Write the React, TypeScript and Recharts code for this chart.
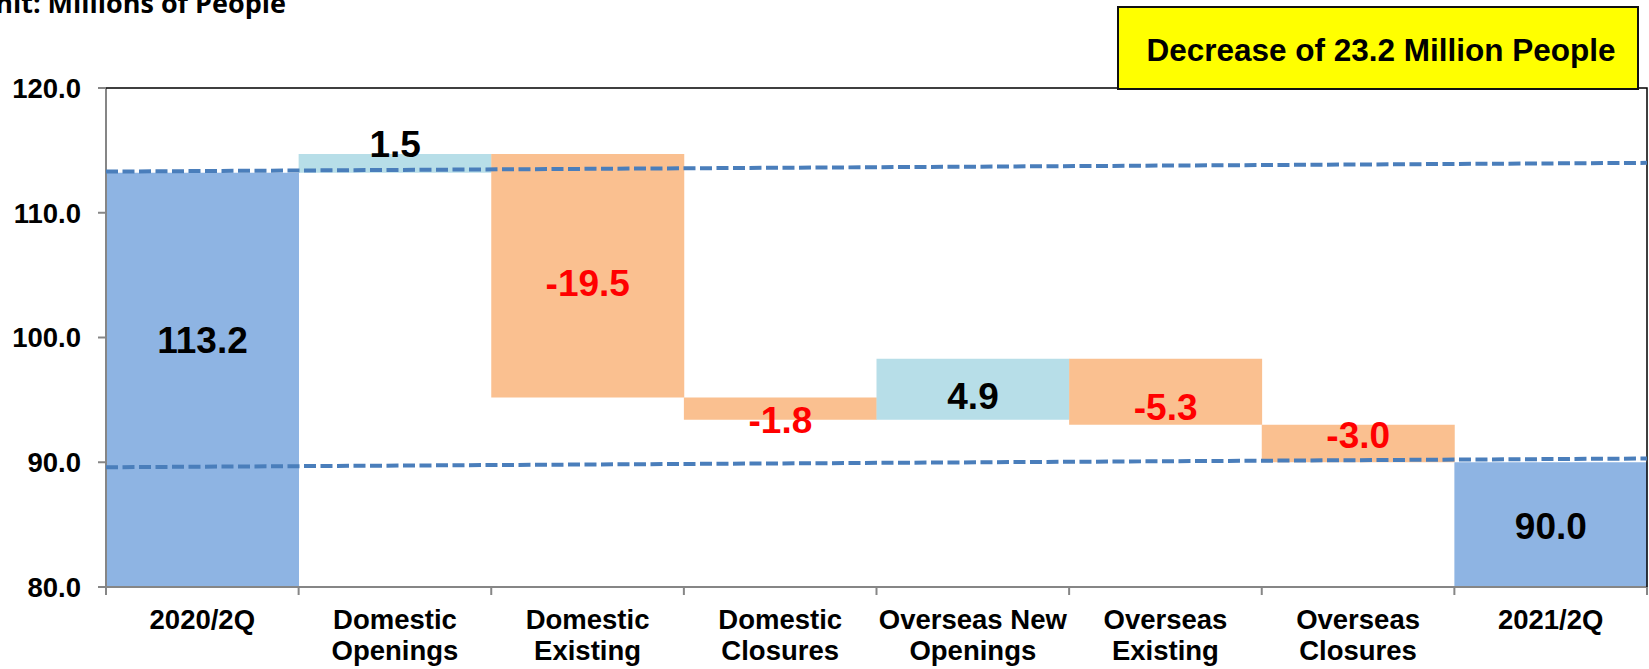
import { BarChart, Bar, XAxis, YAxis, Cell, LabelList, ReferenceArea } from 'recharts'

const categories = [
  '2020/2Q',
  'Domestic\nOpenings',
  'Domestic\nExisting',
  'Domestic\nClosures',
  'Overseas New\nOpenings',
  'Overseas\nExisting',
  'Overseas\nClosures',
  '2021/2Q',
]
const changes = [113.2, 1.5, -19.5, -1.8, 4.9, -5.3, -3.0, 90.0]
const kinds = ['total', 'up', 'down', 'down', 'up', 'down', 'down', 'total']
const yTicks = [80, 90, 100, 110, 120]
// hand-drawn dashed guides, slightly tilted (value at left edge, value at right edge)
const upperGuide = [113.3, 114.0]
const lowerGuide = [89.6, 90.3]

const W = 1649
const H = 669
const Y_MIN = 80
const Y_MAX = 120
const FONT = '"Liberation Sans", Arial, sans-serif'

const colors: Record<string, string> = { total: '#8eb4e3', up: '#b7dee8', down: '#fac090' }
// nudges of each value label from its bar centre, px
const labelShift = [-40, -20, 7, 11, 6, 15, -9, 1]

let running = 0
const rows = categories.map((name, i) => {
  const v = changes[i]
  if (kinds[i] === 'total') {
    running = v
    return { name, range: [Y_MIN, v], kind: kinds[i] }
  }
  const start = running
  running = Math.round((running + v) * 10) / 10
  return { name, range: [Math.min(start, running), Math.max(start, running)], kind: kinds[i] }
})

const margin = { top: 88, right: 2, bottom: 0, left: 0 }
const Y_AXIS_W = 106
const X_AXIS_H = 82

function CategoryTick(props: any) {
  const { x, y, payload, index } = props
  const half = payload?.offset || (W - Y_AXIS_W - margin.right) / categories.length / 2
  const lines = String(payload.value).split('\n')
  return (
    <g>
      <line x1={x - half} y1={y} x2={x - half} y2={y + 8} stroke="#868686" strokeWidth={2} />
      {index === categories.length - 1 && (
        <line x1={x + half} y1={y} x2={x + half} y2={y + 8} stroke="#868686" strokeWidth={2} />
      )}
      <text x={x} y={y} textAnchor="middle" fontSize={27.5} fontWeight={700} fontFamily={FONT} fill="#000">
        {lines.map((l, i) => (
          <tspan key={i} x={x} dy={i === 0 ? 41.5 : 31.7}>{l}</tspan>
        ))}
      </text>
    </g>
  )
}

function ValueLabel(props: any) {
  const { x, y, width, height, index } = props
  const v = changes[index]
  const fs = 37
  const top = Math.min(y, y + height)
  const cy = top + Math.abs(height) / 2 + labelShift[index]
  return (
    <text
      x={x + width / 2}
      y={cy + 0.358 * fs}
      textAnchor="middle"
      fontSize={fs}
      fontWeight={700}
      fontFamily={FONT}
      fill={kinds[index] === 'down' ? '#ff0000' : '#000'}
    >
      {v.toFixed(1)}
    </text>
  )
}

// rising dashed guide across the area: from bottom-left to top-right corner
function Guide(props: any) {
  const { x, y, width, height } = props
  return (
    <line
      x1={x}
      y1={y + height}
      x2={x + width}
      y2={y}
      stroke="#4a7ebb"
      strokeWidth={4}
      strokeDasharray="12 4.5"
    />
  )
}

// top and right edges of the plot frame
function Frame(props: any) {
  const { x, y, width, height } = props
  return <path d={`M${x},${y}H${x + width}V${y + height}`} fill="none" stroke="#000" strokeWidth={1.5} />
}

export default function App() {
  const first = categories[0]
  const last = categories[categories.length - 1]
  return (
    <div style={{ position: 'absolute', left: 0, top: 0, width: W, height: H, background: '#fff', overflow: 'hidden' }}>
      <BarChart width={W} height={H} data={rows} margin={margin} barCategoryGap={0} barGap={0}>
        <XAxis
          dataKey="name"
          height={X_AXIS_H}
          interval={0}
          tickSize={0}
          tickMargin={0}
          tickLine={false}
          axisLine={{ stroke: '#868686', strokeWidth: 2 }}
          tick={<CategoryTick />}
        />
        <YAxis
          width={Y_AXIS_W}
          domain={[Y_MIN, Y_MAX]}
          ticks={yTicks}
          allowDataOverflow
          tickFormatter={(v: number) => v.toFixed(1)}
          tickSize={8}
          tickMargin={17}
          tickLine={{ stroke: '#868686', strokeWidth: 2 }}
          axisLine={{ stroke: '#868686', strokeWidth: 2 }}
          tick={{ fill: '#000', fontSize: 27.5, fontWeight: 700, fontFamily: FONT }}
        />
        <Bar dataKey="range" isAnimationActive={false}>
          {rows.map((r, i) => (
            <Cell key={i} fill={colors[r.kind]} />
          ))}
          <LabelList dataKey="range" content={<ValueLabel />} />
        </Bar>
        <ReferenceArea y1={Y_MIN} y2={Y_MAX} shape={<Frame />} ifOverflow="visible" zIndex={650} />
        <ReferenceArea
          x1={first}
          x2={last}
          y1={upperGuide[0]}
          y2={upperGuide[1]}
          shape={<Guide />}
          ifOverflow="visible"
          zIndex={650}
        />
        <ReferenceArea
          x1={first}
          x2={last}
          y1={lowerGuide[0]}
          y2={lowerGuide[1]}
          shape={<Guide />}
          ifOverflow="visible"
          zIndex={650}
        />
      </BarChart>
      <svg width={W} height={H} style={{ position: 'absolute', left: 0, top: 0, pointerEvents: 'none' }}>
        <text x={286} y={13} textAnchor="end" fontSize={27} fontWeight={700} fontFamily='"Open Sans", sans-serif' fill="#000">
          Unit: Millions of People
        </text>
        <rect x={1118} y={7} width={520} height={82} fill="#ffff00" stroke="#111" strokeWidth={2} />
        <text x={1381} y={61} textAnchor="middle" fontSize={31.5} fontWeight={700} fontFamily={FONT} fill="#000">
          Decrease of 23.2 Million People
        </text>
      </svg>
    </div>
  )
}
